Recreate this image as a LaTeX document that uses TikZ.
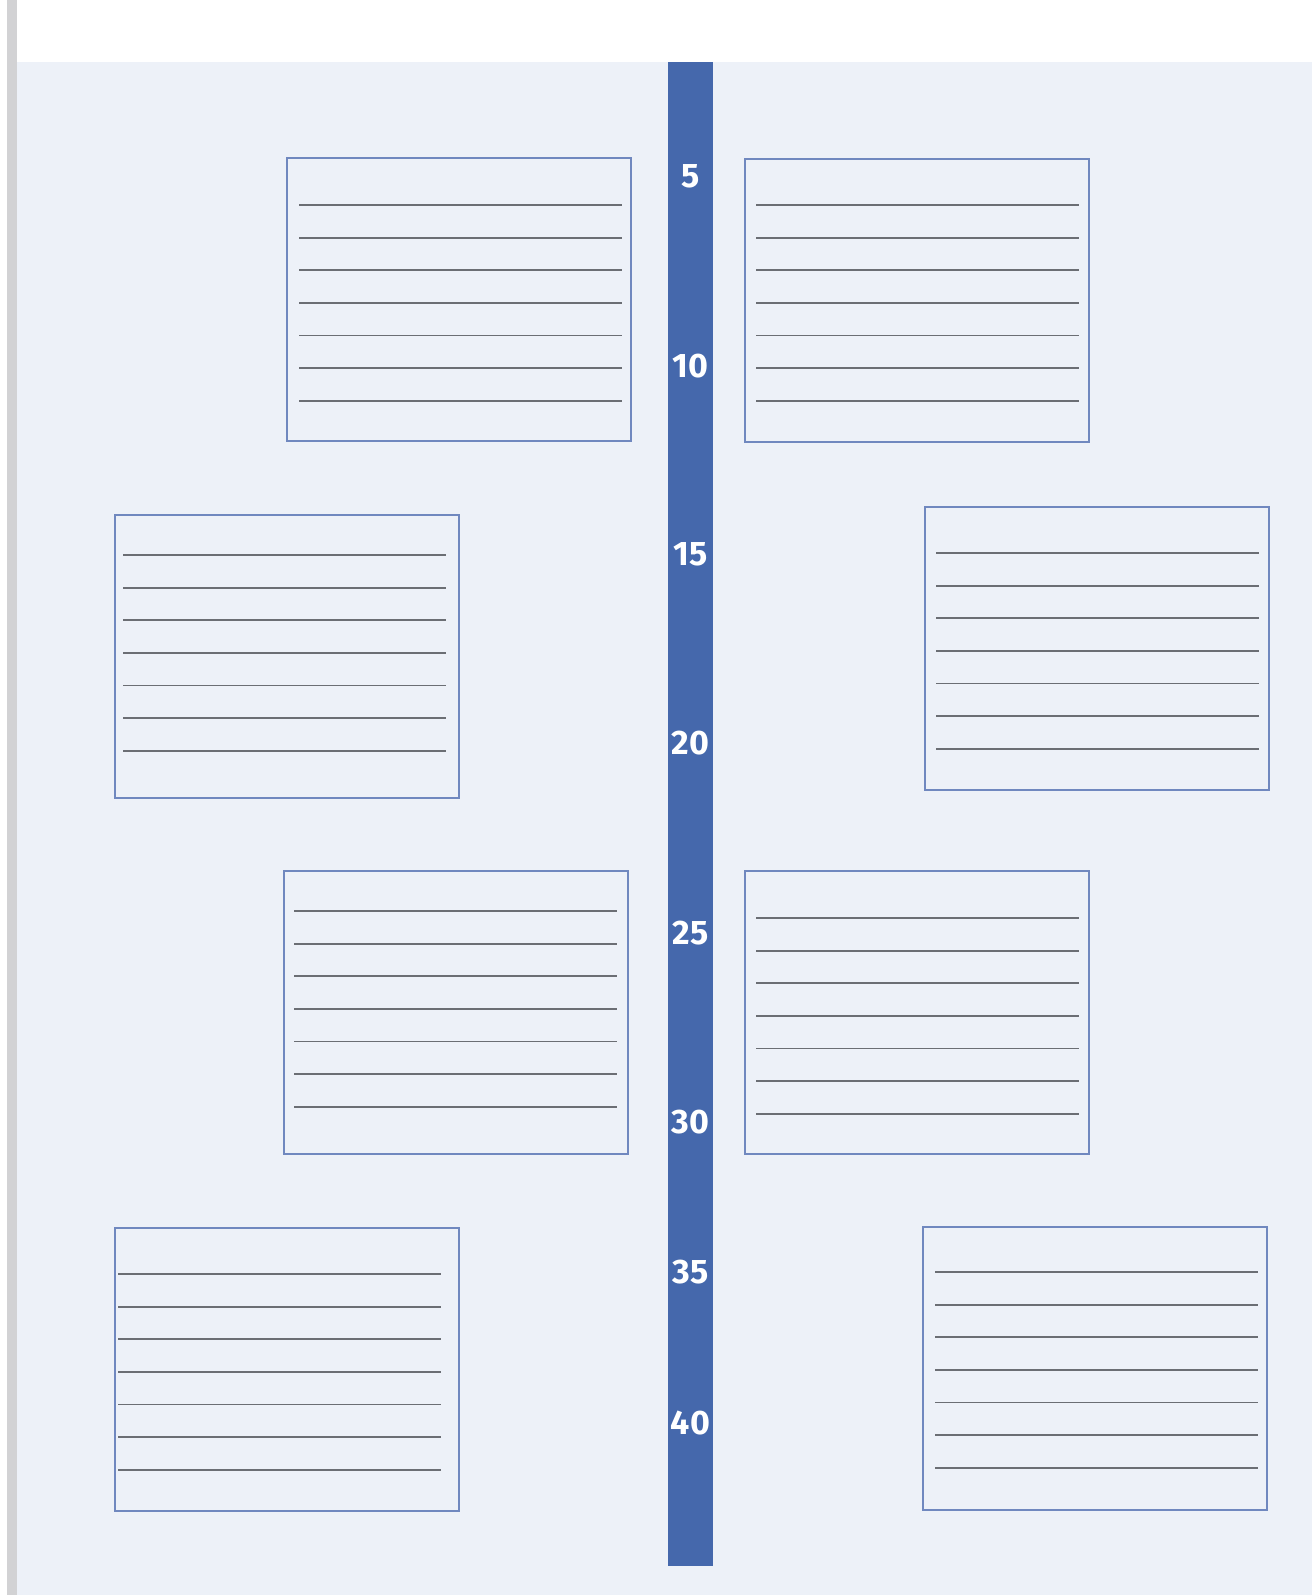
\documentclass[tikz,border=0pt]{standalone}
\usepackage{fontspec}
\usepackage{tikz}
\usetikzlibrary{calc,positioning}
\setsansfont{Fira Sans}
\definecolor{cPage}{HTML}{EDF1F8}
\definecolor{cEdge}{HTML}{D2D2D4}
\definecolor{cBar}{HTML}{4568AC}
\definecolor{cBoxL}{HTML}{7088BF}
\definecolor{cRule}{HTML}{6B6E74}
\tikzset{
  notecard/.style={draw=cBoxL,line width=0.9pt,fill=cPage,anchor=north west,
      minimum width=172pt,minimum height=141.5pt,inner sep=0pt},
  ruled/.style={draw=cRule,line width=0.9pt},
  agelab/.style={font=\sffamily\bfseries\fontsize{17}{18}\selectfont,text=white,
      inner sep=0pt},
}
\begin{document}
\begin{tikzpicture}[x=0.5pt,y=-0.5pt]
  \useasboundingbox (0,0) rectangle (1312,1595);
  \fill[white] (0,0) rectangle (1312,1595);
  \fill[cEdge] (7,0) rectangle (17,1595);
  \fill[cPage] (17,62) rectangle (1312,1595);

  % time line
  \node[fill=cBar,inner sep=0pt,anchor=north,minimum width=22.5pt,
    minimum height=752pt] (bar) at (690.5,62) {};
  \foreach \n/\y in {5/176,10/366,15/554,20/743,25/933,30/1122,35/1272,40/1423}
    \node[agelab] (age\n) at (690.5,\y) {\n};

  % cards
  \node[notecard] (cardL1) at (286,157) {};
  \node[notecard] (cardR1) at (744,158) {};
  \node[notecard] (cardL2) at (114,514) {};
  \node[notecard] (cardR2) at (924,506) {};
  \node[notecard] (cardL3) at (283,870) {};
  \node[notecard] (cardR3) at (744,870) {};
  \node[notecard] (cardL4) at (114,1227) {};
  \node[notecard] (cardR4) at (922,1226) {};

  \foreach \c/\dx/\dy in {L1/13/48,R1/12/47,L2/9/41,R2/12/47,
                          L3/11/41,R3/12/48,L4/4/47,R4/13/46}
    \foreach \i in {0,...,6}
      \draw[ruled] ($(card\c.north west)+(\dx,\dy+32.6*\i)$)
        -- ++(323,0);
\end{tikzpicture}
\end{document}
